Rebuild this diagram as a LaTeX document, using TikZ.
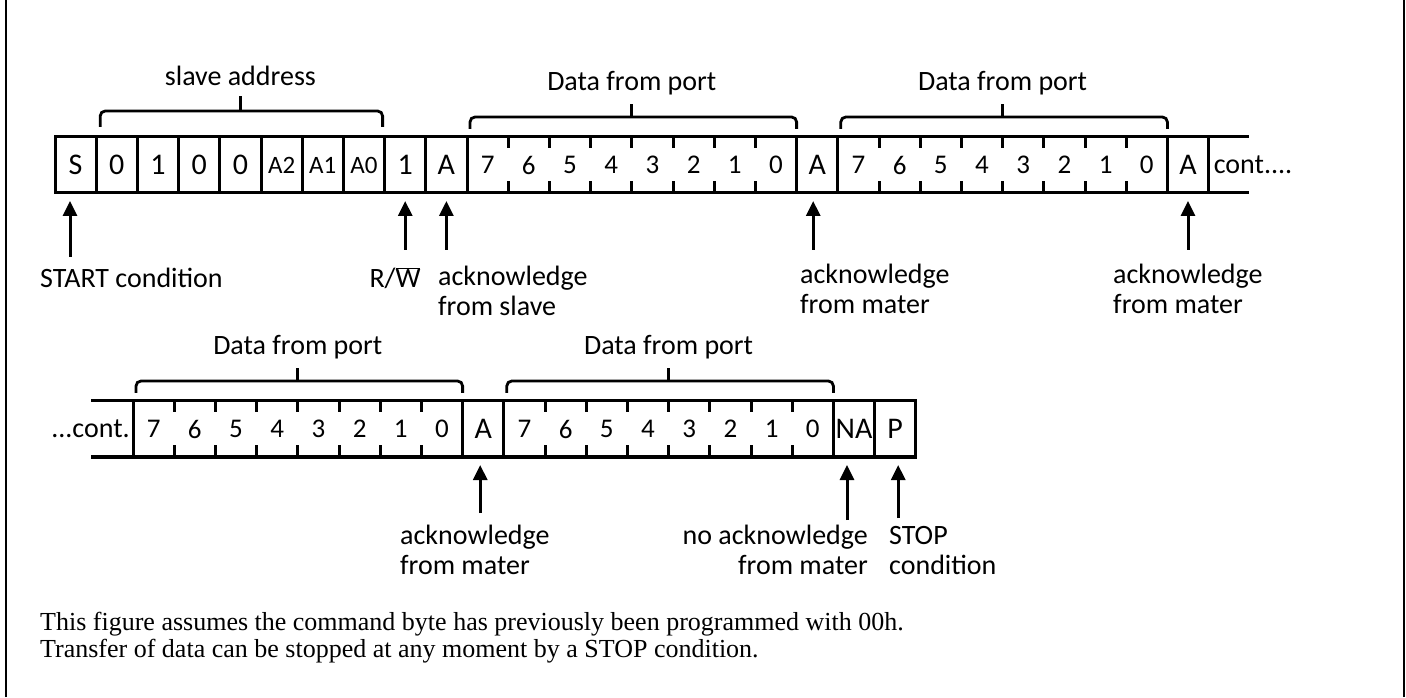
\documentclass[tikz,border=0pt]{standalone}
\usepackage{fontspec}
\setmainfont{Liberation Serif}
\newfontfamily\labelfont{Carlito}
\usetikzlibrary{arrows.meta, positioning, calc}

\tikzset{
    bit/.style={minimum width=41.2pt, minimum height=56pt, inner sep=0pt, outer sep=0pt,
        font=\labelfont\fontsize{30}{32}\selectfont},
    smallbit/.style={bit, font=\labelfont\fontsize{25}{27}\selectfont},
    databit/.style={bit, font=\labelfont\fontsize{27}{29}\selectfont},
    rowline/.style={line width=3pt, line cap=rect},
    brace/.style={line width=2.8pt, rounded corners=5pt},
    pointer/.style={line width=3pt, shorten >=8pt, -{Triangle[length=15pt, width=14pt]}},
    note/.style={inner sep=0pt, align=left, font=\labelfont\fontsize{28}{30}\selectfont},
    remark/.style={inner sep=0pt, font=\fontsize{26}{27}\selectfont}
}

\begin{document}
\begin{tikzpicture}[x=1pt, y=1pt]
    \def \cellWidth {41.2}
    \def \topRow {532}
    \def \bottomRow {268}
    \def \tickLength {10}
    \useasboundingbox (0,0) rectangle (1406,697);
    \draw[line width=2.5pt] (6,0) -- (6,697);
    \draw[line width=2.5pt] (1404,0) -- (1404,697);

    % first line of the transfer
    \foreach \b/\s [count=\i from 0] in {S/bit,0/bit,1/bit,0/bit,0/bit,A2/smallbit,A1/smallbit,A0/smallbit,1/bit,A/bit,
        7/databit,6/databit,5/databit,4/databit,3/databit,2/databit,1/databit,0/databit,A/bit,
        7/databit,6/databit,5/databit,4/databit,3/databit,2/databit,1/databit,0/databit,A/bit}
        \node[\s] (t\i) at ({55+(\i+0.5)*\cellWidth},\topRow) {\b};
    \node[note, right=5pt of t27] (tcont) {cont....};
    \draw[rowline] (t0.north west) -- ($(t27.north east)+(39,0)$);
    \draw[rowline] (t0.south west) -- ($(t27.south east)+(39,0)$);
    \foreach \i in {0,1,2,3,4,5,6,7,8,9,10,18,19,27}
        \draw[rowline] (t\i.north west) -- (t\i.south west);
    \draw[rowline] (t27.north east) -- (t27.south east);
    \foreach \i in {11,12,13,14,15,16,17,20,21,22,23,24,25,26} {
        \draw[rowline] (t\i.north west) -- ++(0,-\tickLength);
        \draw[rowline] (t\i.south west) -- ++(0,\tickLength);
    }

    % second line of the transfer
    \foreach \b/\s [count=\i from 0] in {7/databit,6/databit,5/databit,4/databit,3/databit,2/databit,1/databit,0/databit,A/bit,
        7/databit,6/databit,5/databit,4/databit,3/databit,2/databit,1/databit,0/databit,NA/bit,P/bit}
        \node[\s] (b\i) at ({133+(\i+0.5)*\cellWidth},\bottomRow) {\b};
    \node[note, left=3pt of b0] (bcont) {...cont.};
    \draw[rowline] ($(b0.north west)+(-41,0)$) -- (b18.north east) -- (b18.south east) -- ($(b0.south west)+(-41,0)$);
    \foreach \i in {0,8,9,17,18}
        \draw[rowline] (b\i.north west) -- (b\i.south west);
    \foreach \i in {1,2,3,4,5,6,7,10,11,12,13,14,15,16} {
        \draw[rowline] (b\i.north west) -- ++(0,-\tickLength);
        \draw[rowline] (b\i.south west) -- ++(0,\tickLength);
    }

    % brackets
    \draw[brace] ($(t1.north west)+(4,10)$) |- ($(t7.north east)+(-2,26)$) -- ($(t7.north east)+(-2,10)$);
    \coordinate (sa) at ($(t1.north west)!0.5!(t7.north east)+(0,41)$);
    \draw[brace] ($(t1.north west)!0.5!(t7.north east)+(0,26)$) -- (sa);
    \node[note, anchor=base] (lsa) at ($(sa)+(0,10)$) {slave address};
    \foreach \l/\r/\n in {t10/t17/dt1, t19/t26/dt2, b0/b7/db1, b9/b16/db2} {
        \draw[brace] ($(\l.north west)+(3,8)$) |- ($(\r.north east)+(0,20)$) -- ($(\r.north east)+(0,8)$);
        \coordinate (\n) at ($(\l.north west)!0.5!(\r.north east)+(0,33)$);
        \draw[brace] ($(\l.north west)!0.5!(\r.north east)+(0,20)$) -- (\n);
        \node[note, anchor=base] (l\n) at ($(\n)+(0,13)$) {Data from port};
    }

    % pointers and their texts
    \coordinate (pS) at (70,440);
    \draw[pointer] (pS) -- (pS |- t0.south);
    \node[note, anchor=base west] (lS) at (40,409) {START condition};
    \coordinate (pRW) at ($(t8.south)+(0,-57)$);
    \draw[pointer] (pRW) -- (t8);
    \node[note, anchor=base] (lRW) at (395,409) {R/$\overline{\hbox{W}}$};
    \coordinate (pAS) at ($(t9.south)+(0,-57)$);
    \draw[pointer] (pAS) -- (t9);
    \node[note, anchor=north west] (lAS) at (438,431) {acknowledge\\from slave};
    \coordinate (pAM1) at ($(t18.south)+(-4,-57)$);
    \draw[pointer] (pAM1) -- (pAM1 |- t18.south);
    \node[note, anchor=north west] (lAM1) at (800,433) {acknowledge\\from mater};
    \coordinate (pAM2) at ($(t27.south)+(0,-57)$);
    \draw[pointer] (pAM2) -- (t27);
    \node[note, anchor=north west] (lAM2) at (1113,433) {acknowledge\\from mater};

    \coordinate (qA) at ($(b8.south)+(-3,-56)$);
    \draw[pointer] (qA) -- (qA |- b8.south);
    \node[note, anchor=north west] (lqA) at (400,172) {acknowledge\\from mater};
    \coordinate (qNA) at ($(b17.south)+(-7,-63)$);
    \draw[pointer] (qNA) -- (qNA |- b17.south);
    \node[note, anchor=north east, align=right] (lqNA) at (868,172) {no acknowledge\\from mater};
    \coordinate (qP) at ($(b18.south)+(3,-61)$);
    \draw[pointer] (qP) -- (qP |- b18.south);
    \node[note, anchor=north west] (lqP) at (889,171) {STOP\\condition};

    \node[remark, anchor=base west] (r1) at (40,67) {This figure assumes the command byte has previously been programmed with 00h.};
    \node[remark, anchor=base west] (r2) at (40,40) {Transfer of data can be stopped at any moment by a STOP condition.};
\end{tikzpicture}
\end{document}
